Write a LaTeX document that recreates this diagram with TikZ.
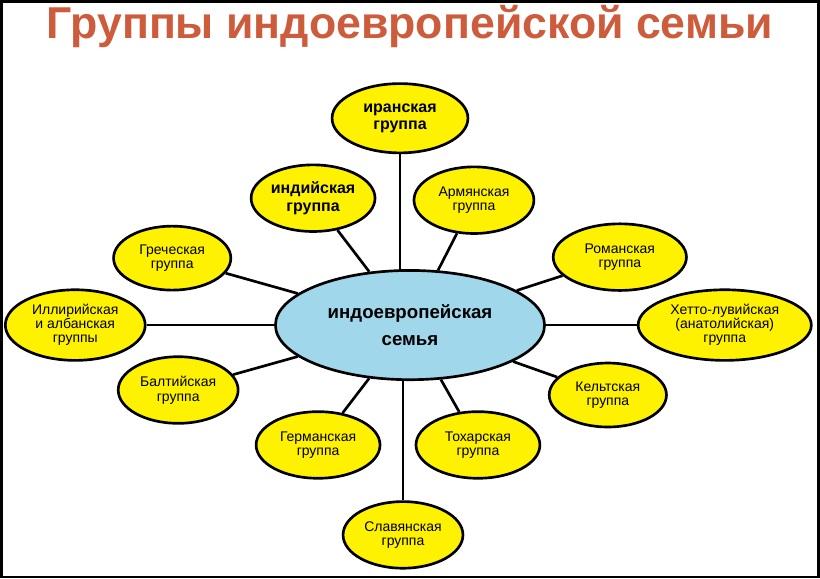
\documentclass[tikz,border=0pt]{standalone}
\usepackage{fontspec}
\setmainfont{Liberation Sans}
\usetikzlibrary{shapes.geometric,backgrounds}
\definecolor{ttl}{RGB}{205,92,60}
\definecolor{yel}{RGB}{255,242,0}
\definecolor{blu}{RGB}{160,215,235}
\begin{document}
\begin{tikzpicture}[x=0.75pt,y=-0.75pt,
 grp/.style={ellipse,draw=black,line width=2pt,fill=yel,inner sep=0pt,align=center,font=\fontsize{10.5}{11}\selectfont},
 link/.style={line width=2pt}]
\node[text=ttl,font=\bfseries\fontsize{33.5}{36}\selectfont] (title) at (410,26) {Группы индоевропейской семьи};
\node[ellipse,draw=black,line width=2pt,fill=blu,minimum width=202pt,minimum height=82pt,align=center,font=\bfseries\fontsize{14}{20}\selectfont] (c) at (410,325) {индоевропейская\\семья};
\node[grp,minimum width=102pt,minimum height=52pt,font=\bfseries\fontsize{12}{13}\selectfont] (ir) at (400,118) {иранская\\группа};
\node[grp,minimum width=93pt,minimum height=50pt,font=\bfseries\fontsize{12}{13}\selectfont] (in) at (313,198) {индийская\\группа};
\node[grp,minimum width=90pt,minimum height=50pt] (ar) at (474,200) {Армянская\\группа};
\node[grp,minimum width=88pt,minimum height=48pt] (gr) at (172,258) {Греческая\\группа};
\node[grp,minimum width=100pt,minimum height=50pt] (ro) at (620,257) {Романская\\группа};
\node[grp,minimum width=105pt,minimum height=53pt,font=\fontsize{10.5}{10.5}\selectfont] (il) at (75,325) {Иллирийская\\и албанская\\группы};
\node[grp,minimum width=130pt,minimum height=53pt,font=\fontsize{10.5}{10.5}\selectfont] (he) at (725,325) {Хетто-лувийская\\(анатолийская)\\группа};
\node[grp,minimum width=90pt,minimum height=50pt] (ba) at (178,390) {Балтийская\\группа};
\node[grp,minimum width=88pt,minimum height=48pt] (ke) at (608,395) {Кельтская\\группа};
\node[grp,minimum width=93pt,minimum height=50pt] (ge) at (318,445) {Германская\\группа};
\node[grp,minimum width=93pt,minimum height=50pt] (to) at (478,445) {Тохарская\\группа};
\node[grp,minimum width=90pt,minimum height=50pt] (sl) at (403,535) {Славянская\\группа};
\begin{scope}[on background layer]
\fill[white] (0,0) rectangle (820,578);
\draw[line width=2pt] (1,1) rectangle (819,577);
\foreach \n in {in,ar,gr,ro,il,he,ba,ke,ge,to}{\draw[link] (c) -- (\n);}
\draw[link] (ir) -- (ir |- c.center);
\draw[link] (sl) -- (sl |- c.center);
\end{scope}
\end{tikzpicture}
\end{document}
